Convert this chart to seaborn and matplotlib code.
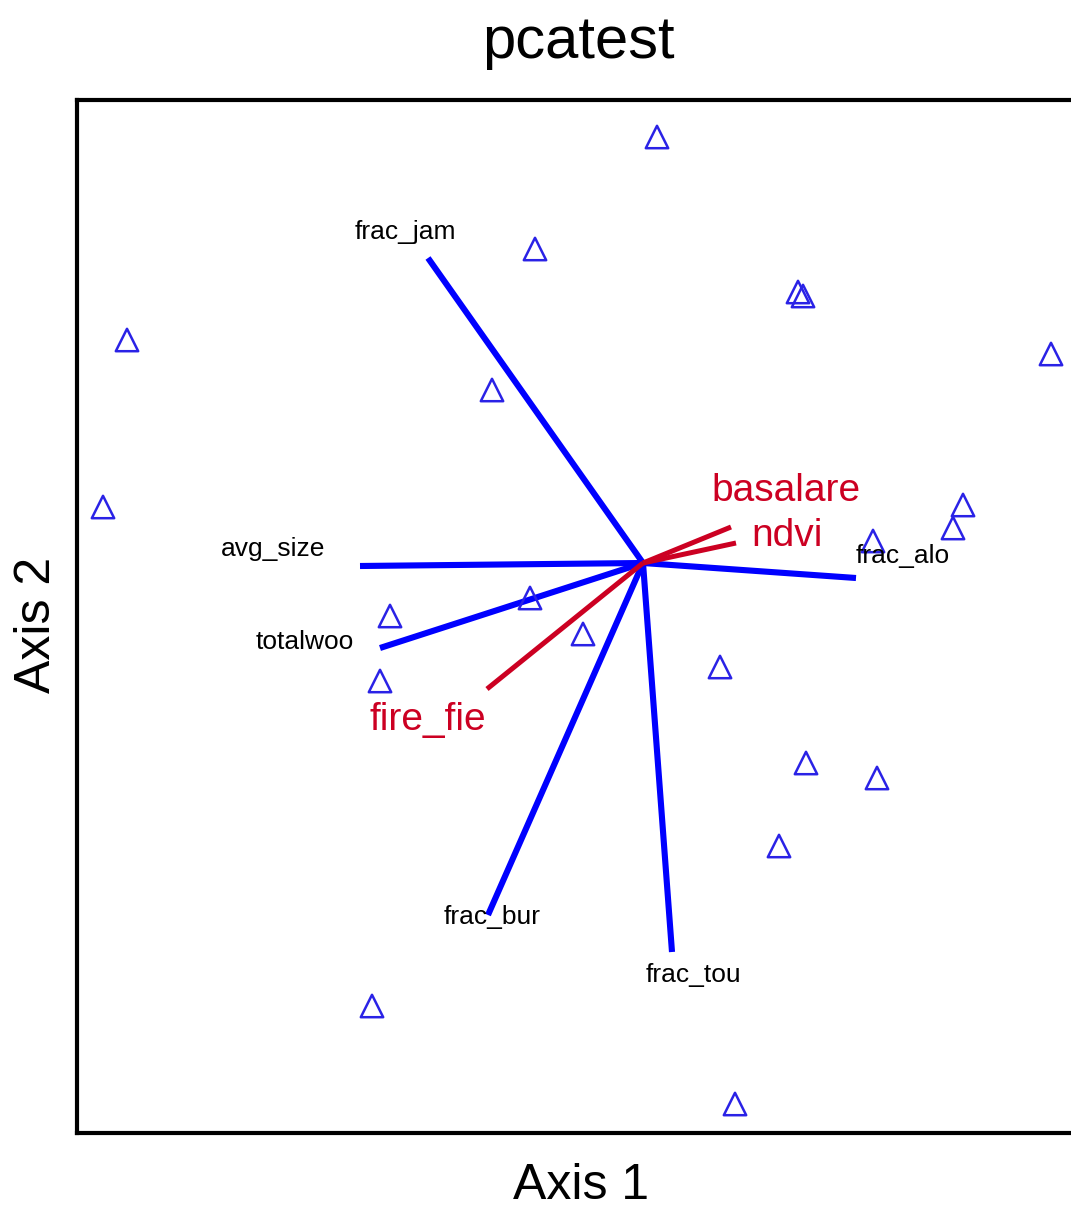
import matplotlib
matplotlib.use("Agg")
import matplotlib.pyplot as plt
import seaborn as sns
import pandas as pd

# Site scores on the first two axes
site_x = [0.14, -1.08, 1.55, 1.60, -5.16, 4.08, -1.51, -5.40, 3.20, 3.10, 2.30,
          -2.53, -1.13, -0.60, -2.63, 0.77, 1.63, 2.34, 1.36, -2.71, 0.92]
site_y = [4.26, 3.14, 2.71, 2.67, 2.23, 2.09, 1.73, 0.56, 0.58, 0.35, 0.22,
          -0.53, -0.35, -0.71, -1.18, -1.04, -2.00, -2.15, -2.83, -4.43, -5.41]

# Variable loadings (blue group)
var_names = ["frac_jam", "avg_size", "totalwoo", "frac_bur", "frac_tou", "frac_alo"]
var_x = [-2.15, -2.83, -2.63, -1.55, 0.29, 2.13]
var_y = [3.05, -0.03, -0.85, -3.52, -3.89, -0.15]
var_lab_x = [-2.38, -3.70, -3.38, -1.51, 0.50, 2.60]
var_lab_y = [3.31, 0.14, -0.79, -3.54, -4.12, 0.07]

# Supplementary variables (red group)
sup_names = ["basalare", "ndvi", "fire_fie"]
sup_x = [0.88, 0.93, -1.56]
sup_y = [0.36, 0.20, -1.26]
sup_lab_x = [1.43, 1.44, -2.15]
sup_lab_y = [0.72, 0.27, -1.57]

sns.set_theme(style="white")
plt.rcParams["font.family"] = ["Liberation Sans", "DejaVu Sans"]
plt.rcParams["text.color"] = "black"

fig = plt.figure(figsize=(10.71, 12.18), dpi=100)
ax = fig.add_axes([77 / 1071, 1 - 1133 / 1218, (1110 - 77) / 1071, (1133 - 100) / 1218])

blue = "#0000ff"
red = "#cc0022"

for x, y in zip(var_x, var_y):
    ax.plot([0, x], [0, y], color=blue, lw=4.4, solid_capstyle="butt", zorder=2)
for x, y in zip(sup_x, sup_y):
    ax.plot([0, x], [0, y], color=red, lw=3.6, solid_capstyle="butt", zorder=2)

sites = pd.DataFrame({"Axis 1": site_x, "Axis 2": site_y})
sns.scatterplot(data=sites, x="Axis 1", y="Axis 2", ax=ax, marker="^", s=260,
                facecolors="none", edgecolor="#2a22e6", linewidth=1.8, zorder=3)

for n, x, y in zip(var_names, var_lab_x, var_lab_y):
    ax.text(x, y, n, ha="center", va="center", fontsize=19, color="black", zorder=4)
for n, x, y in zip(sup_names, sup_lab_x, sup_lab_y):
    ax.text(x, y, n, ha="center", va="center", fontsize=28, color=red, zorder=4)

ax.set_xlim(-5.66, 4.67)
ax.set_ylim(-5.70, 4.63)
ax.set_xticks([])
ax.set_yticks([])
ax.set_xlabel("")
ax.set_ylabel("")
for s in ax.spines.values():
    s.set_color("black")
    s.set_linewidth(3)

fig.text(578 / 1071, 1 - 42 / 1218, "pcatest", ha="center", va="center", fontsize=43,
         color="black")
fig.text(581 / 1071, 1 - 1186 / 1218, "Axis 1", ha="center", va="center", fontsize=36,
         color="black")
fig.text(37 / 1071, 1 - 625 / 1218, "Axis 2", ha="center", va="center", fontsize=36,
         rotation=90, color="black")

fig.savefig("out.png", dpi=100)
